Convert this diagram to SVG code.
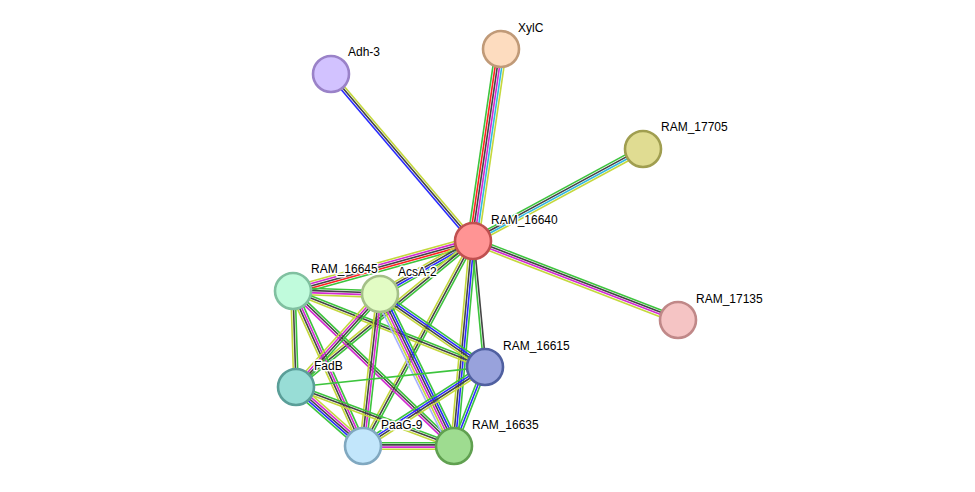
<svg xmlns="http://www.w3.org/2000/svg" xmlns:xlink="http://www.w3.org/1999/xlink" width="975" height="492" viewBox="0 0 975 492">
<style>
.s{stroke-width:1.6;fill:none}
.n{stroke-width:2.6}
.t{font-family:"Liberation Sans",Arial,sans-serif;font-size:12px;fill:#000;stroke:#fff;stroke-width:3;paint-order:stroke;stroke-linejoin:round}
</style>
<defs>
<line id="G" class="s" x1="0" y1="0" x2="1" y2="0" stroke="#3dc43d"/>
<line id="R" class="s" x1="0" y1="0" x2="1" y2="0" stroke="#ff2020"/>
<line id="B" class="s" x1="0" y1="0" x2="1" y2="0" stroke="#2a2aff"/>
<line id="K" class="s" x1="0" y1="0" x2="1" y2="0" stroke="#444"/>
<line id="M" class="s" x1="0" y1="0" x2="1" y2="0" stroke="#d22ad2"/>
<line id="C" class="s" x1="0" y1="0" x2="1" y2="0" stroke="#30b8e0"/>
<line id="Y" class="s" x1="0" y1="0" x2="1" y2="0" stroke="#c4d83c"/>
<line id="H" class="s" x1="0" y1="0" x2="1" y2="0" stroke="#a8b0ff"/>
</defs>
<rect width="975" height="492" fill="#fff"/>
<g id="edges">
<g transform="translate(473 241) rotate(-130.4) scale(219.2 1)"><use href="#B" y="-2.2"/><use href="#K" y="0"/><use href="#Y" y="2.2"/></g>
<g transform="translate(473 241) rotate(-81.7) scale(194 1)"><use href="#G" y="-5.5"/><use href="#R" y="-3.3"/><use href="#K" y="-1.1"/><use href="#M" y="1.1"/><use href="#C" y="3.3"/><use href="#Y" y="5.5"/></g>
<g transform="translate(473 241) rotate(-28.4) scale(193.3 1)"><use href="#G" y="-3.3"/><use href="#K" y="-1.1"/><use href="#C" y="1.1"/><use href="#Y" y="3.3"/></g>
<g transform="translate(473 241) rotate(21.1) scale(219.7 1)"><use href="#G" y="-3.3"/><use href="#K" y="-1.1"/><use href="#M" y="1.1"/><use href="#Y" y="3.3"/></g>
<g transform="translate(473 241) rotate(164.5) scale(186.8 1)"><use href="#G" y="-4.4"/><use href="#R" y="-2.2"/><use href="#K" y="0"/><use href="#M" y="2.2"/><use href="#Y" y="4.4"/></g>
<g transform="translate(473 241) rotate(150.3) scale(107 1)"><use href="#G" y="-3.3"/><use href="#B" y="-1.1"/><use href="#K" y="1.1"/><use href="#Y" y="3.3"/></g>
<g transform="translate(473 241) rotate(140.5) scale(229.4 1)"><use href="#G" y="-2.2"/><use href="#K" y="0"/><use href="#Y" y="2.2"/></g>
<g transform="translate(473 241) rotate(118.2) scale(232.6 1)"><use href="#G" y="-2.2"/><use href="#K" y="0"/><use href="#Y" y="2.2"/></g>
<g transform="translate(473 241) rotate(95.3) scale(205.9 1)"><use href="#G" y="-3.3"/><use href="#B" y="-1.1"/><use href="#K" y="1.1"/><use href="#Y" y="3.3"/></g>
<g transform="translate(473 241) rotate(84.6) scale(126.6 1)"><use href="#K" y="-1.1"/><use href="#G" y="1.1"/></g>
<g transform="translate(293 291) rotate(2) scale(87.1 1)"><use href="#G" y="-3.3"/><use href="#K" y="-1.1"/><use href="#M" y="1.1"/><use href="#Y" y="3.3"/></g>
<g transform="translate(293 291) rotate(88.2) scale(96 1)"><use href="#G" y="-2.2"/><use href="#K" y="0"/><use href="#Y" y="2.2"/></g>
<g transform="translate(293 291) rotate(65.7) scale(170.1 1)"><use href="#G" y="-3.3"/><use href="#M" y="-1.1"/><use href="#K" y="1.1"/><use href="#Y" y="3.3"/></g>
<g transform="translate(293 291) rotate(43.9) scale(223.5 1)"><use href="#G" y="-2.2"/><use href="#K" y="0"/><use href="#M" y="2.2"/></g>
<g transform="translate(293 291) rotate(21.6) scale(206.5 1)"><use href="#G" y="-2.2"/><use href="#K" y="0"/><use href="#Y" y="2.2"/></g>
<g transform="translate(380 294) rotate(132.1) scale(125.3 1)"><use href="#G" y="-3.3"/><use href="#K" y="-1.1"/><use href="#M" y="1.1"/><use href="#Y" y="3.3"/></g>
<g transform="translate(380 294) rotate(96.4) scale(152.9 1)"><use href="#G" y="-3.3"/><use href="#M" y="-1.1"/><use href="#K" y="1.1"/><use href="#Y" y="3.3"/></g>
<g transform="translate(380 294) rotate(64) scale(169.1 1)"><use href="#G" y="-5.5"/><use href="#B" y="-3.3"/><use href="#K" y="-1.1"/><use href="#M" y="1.1"/><use href="#Y" y="3.3"/><use href="#H" y="5.5"/></g>
<g transform="translate(380 294) rotate(34.8) scale(127.9 1)"><use href="#G" y="-3.3"/><use href="#B" y="-1.1"/><use href="#K" y="1.1"/><use href="#Y" y="3.3"/></g>
<g transform="translate(296 387) rotate(-6) scale(190.1 1)"><use href="#G" y="0"/></g>
<g transform="translate(296 387) rotate(41.4) scale(89.3 1)"><use href="#Y" y="-4.4"/><use href="#M" y="-2.2"/><use href="#K" y="0"/><use href="#B" y="2.2"/><use href="#G" y="4.4"/></g>
<g transform="translate(296 387) rotate(20.5) scale(168.7 1)"><use href="#G" y="-2.2"/><use href="#K" y="0"/><use href="#Y" y="2.2"/></g>
<g transform="translate(363 446) rotate(0) scale(91 1)"><use href="#G" y="-3.3"/><use href="#K" y="-1.1"/><use href="#M" y="1.1"/><use href="#Y" y="3.3"/></g>
<g transform="translate(363 446) rotate(-32.9) scale(145.3 1)"><use href="#G" y="-3.3"/><use href="#B" y="-1.1"/><use href="#K" y="1.1"/><use href="#Y" y="3.3"/></g>
<g transform="translate(485 367) rotate(111.4) scale(84.9 1)"><use href="#G" y="-2.2"/><use href="#B" y="0"/><use href="#G" y="2.2"/></g>
</g>
<g id="n-adh3"><circle class="n" cx="331" cy="74" r="18" fill="#d2c2ff" stroke="#9a82c8"/><text class="t" x="348" y="56">Adh-3</text></g>
<g id="n-xylc"><circle class="n" cx="501" cy="49" r="18" fill="#fddcbf" stroke="#c09a78"/><text class="t" x="518" y="32">XylC</text></g>
<g id="n-ram17705"><circle class="n" cx="643" cy="149" r="18" fill="#e0dc92" stroke="#a09e50"/><text class="t" x="661" y="131">RAM_17705</text></g>
<g id="n-ram16640"><circle class="n" cx="473" cy="241" r="18" fill="#ff9494" stroke="#c05050"/><text class="t" x="491" y="224">RAM_16640</text></g>
<g id="n-ram17135"><circle class="n" cx="678" cy="320" r="18" fill="#f5c4c4" stroke="#c08888"/><text class="t" x="696" y="303">RAM_17135</text></g>
<g id="n-ram16645"><circle class="n" cx="293" cy="291" r="18" fill="#c0fbdc" stroke="#80c0a0"/><text class="t" x="311" y="273">RAM_16645</text></g>
<g id="n-acsa2"><circle class="n" cx="380" cy="294" r="18" fill="#e2fcc4" stroke="#a4c088"/><text class="t" x="398" y="276">AcsA-2</text></g>
<g id="n-fadb"><circle class="n" cx="296" cy="387" r="18" fill="#98ddd6" stroke="#5a9e98"/><text class="t" x="314" y="370">FadB</text></g>
<g id="n-ram16615"><circle class="n" cx="485" cy="367" r="18" fill="#98a2dc" stroke="#5060a0"/><text class="t" x="503" y="350">RAM_16615</text></g>
<g id="n-paag9"><circle class="n" cx="363" cy="446" r="18" fill="#c2e6fb" stroke="#80a8c0"/><text class="t" x="381" y="429">PaaG-9</text></g>
<g id="n-ram16635"><circle class="n" cx="454" cy="446" r="18" fill="#9edc90" stroke="#60a050"/><text class="t" x="472" y="429">RAM_16635</text></g>
</svg>
